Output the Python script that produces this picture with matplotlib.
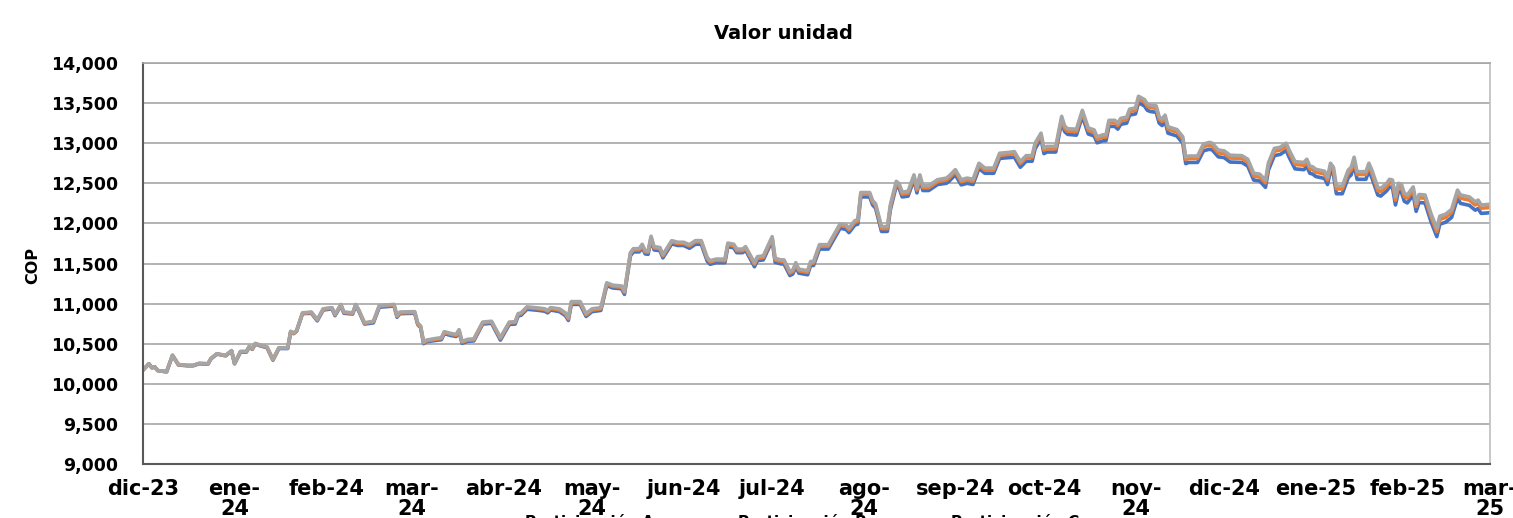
import numpy as np
import matplotlib
matplotlib.use('Agg')
import matplotlib.pyplot as plt
from matplotlib.ticker import FuncFormatter

# dias contados desde el 1 de diciembre de 2023
dias = [0, 2, 3, 4, 5, 8, 10, 12, 15, 17, 19, 22, 23, 25, 28, 30, 31, 33, 35, 36,
        37, 38, 40, 42, 44, 46, 49, 50, 51, 52, 54, 57, 59, 61, 64, 65, 67, 68, 71, 72,
        73, 75, 78, 80, 85, 86, 87, 92, 93, 94, 95, 96, 99, 101, 102, 104, 106, 107, 108, 110,
        112, 115, 118, 121, 124, 126, 127, 128, 130, 134, 136, 137, 138, 141, 143, 144, 145, 148, 150, 152,
        155, 157, 159, 162, 163, 165, 166, 168, 169, 170, 171, 172, 173, 175, 176, 179, 181, 183, 185, 187,
        189, 191, 192, 194, 197, 198, 200, 201, 203, 204, 207, 208, 210, 213, 214, 216, 217, 219, 220, 221,
        222, 225, 226, 227, 229, 232, 236, 238, 239, 241, 242, 243, 246, 247, 248, 250, 252, 253, 255, 256,
        257, 259, 261, 262, 263, 264, 266, 269, 272, 273, 275, 277, 279, 281, 283, 285, 288, 290, 293, 295,
        297, 299, 301, 302, 304, 305, 306, 309, 311, 312, 313, 316, 318, 320, 322, 323, 325, 326, 327, 329,
        330, 331, 333, 334, 336, 337, 339, 340, 341, 343, 344, 345, 346, 347, 350, 352, 353, 354, 357, 359,
        361, 362, 364, 366, 368, 372, 374, 376, 378, 380, 381, 383, 385, 387, 388, 390, 393, 394, 395, 396,
        397, 400, 401, 402, 403, 404, 406, 408, 409, 410, 411, 414, 415, 416, 418, 419, 421, 422, 423, 424,
        425, 426, 427, 428, 430, 431, 432, 434, 436, 438, 439, 441, 443, 445, 446, 449, 451, 452, 453, 455,
        456]

part_c = [10170, 10250, 10200, 10210, 10165, 10150, 10355, 10240, 10230, 10230, 10255, 10250, 10315, 10375, 10355, 10415, 10255, 10405, 10405, 10470,
          10440, 10505, 10480, 10460, 10305, 10450, 10450, 10655, 10635, 10665, 10885, 10895, 10800, 10935, 10950, 10865, 10990, 10895, 10885, 10990,
          10925, 10760, 10780, 10975, 10990, 10850, 10895, 10900, 10760, 10720, 10520, 10545, 10565, 10575, 10650, 10630, 10615, 10675, 10530, 10555,
          10560, 10770, 10780, 10575, 10770, 10775, 10875, 10885, 10960, 10945, 10935, 10915, 10950, 10935, 10885, 10825, 11025, 11025, 10875, 10935,
          10950, 11260, 11230, 11220, 11155, 11635, 11685, 11685, 11740, 11660, 11655, 11840, 11710, 11700, 11610, 11785, 11765, 11765, 11735, 11785,
          11785, 11575, 11535, 11555, 11555, 11755, 11740, 11680, 11680, 11710, 11510, 11585, 11595, 11835, 11565, 11545, 11545, 11400, 11420, 11510,
          11430, 11410, 11525, 11525, 11735, 11735, 11995, 11980, 11940, 12035, 12045, 12385, 12385, 12285, 12245, 11960, 11960, 12230, 12525, 12495,
          12390, 12400, 12605, 12440, 12605, 12470, 12470, 12545, 12565, 12595, 12670, 12545, 12565, 12550, 12750, 12690, 12690, 12875, 12885, 12895,
          12770, 12845, 12845, 13000, 13125, 12940, 12960, 12960, 13335, 13215, 13180, 13175, 13410, 13190, 13165, 13080, 13105, 13105, 13285, 13285,
          13250, 13310, 13325, 13425, 13440, 13585, 13545, 13490, 13475, 13465, 13330, 13300, 13350, 13205, 13170, 13080, 12825, 12840, 12840, 12990,
          13010, 13000, 12915, 12905, 12850, 12845, 12800, 12625, 12615, 12540, 12755, 12935, 12950, 13000, 12915, 12770, 12760, 12800, 12715, 12705,
          12675, 12650, 12575, 12750, 12700, 12465, 12465, 12665, 12700, 12825, 12645, 12645, 12750, 12665, 12450, 12435, 12500, 12550, 12540, 12330,
          12500, 12490, 12375, 12355, 12455, 12250, 12360, 12355, 12125, 11935, 12090, 12115, 12175, 12415, 12355, 12330, 12270, 12290, 12230, 12235,
          12240]

part_b = [10170, 10250, 10200, 10210, 10165, 10150, 10355, 10240, 10230, 10230, 10255, 10250, 10315, 10375, 10350, 10410, 10250, 10400, 10400, 10465,
          10435, 10500, 10475, 10455, 10300, 10445, 10445, 10650, 10630, 10660, 10880, 10890, 10795, 10930, 10945, 10860, 10985, 10890, 10880, 10985,
          10920, 10755, 10775, 10970, 10980, 10840, 10885, 10890, 10750, 10710, 10510, 10535, 10555, 10565, 10640, 10620, 10605, 10665, 10520, 10545,
          10550, 10760, 10770, 10565, 10760, 10765, 10865, 10875, 10950, 10935, 10925, 10905, 10940, 10920, 10870, 10810, 11010, 11010, 10860, 10920,
          10935, 11245, 11215, 11205, 11140, 11620, 11670, 11670, 11725, 11645, 11640, 11825, 11695, 11685, 11595, 11770, 11750, 11750, 11720, 11770,
          11770, 11560, 11520, 11540, 11535, 11735, 11720, 11660, 11660, 11690, 11490, 11565, 11575, 11815, 11545, 11525, 11525, 11380, 11400, 11490,
          11410, 11390, 11505, 11505, 11715, 11715, 11975, 11960, 11920, 12015, 12025, 12365, 12365, 12265, 12225, 11935, 11935, 12205, 12500, 12470,
          12365, 12375, 12580, 12415, 12580, 12445, 12445, 12520, 12540, 12570, 12645, 12520, 12540, 12525, 12725, 12665, 12665, 12850, 12860, 12870,
          12745, 12820, 12820, 12975, 13100, 12915, 12930, 12930, 13305, 13185, 13150, 13145, 13380, 13160, 13135, 13050, 13075, 13075, 13255, 13255,
          13220, 13280, 13295, 13395, 13410, 13555, 13515, 13460, 13445, 13435, 13300, 13270, 13320, 13175, 13140, 13050, 12795, 12810, 12810, 12960,
          12975, 12965, 12880, 12870, 12815, 12810, 12765, 12590, 12580, 12505, 12720, 12900, 12915, 12965, 12880, 12735, 12725, 12765, 12680, 12670,
          12640, 12615, 12540, 12715, 12665, 12430, 12430, 12630, 12665, 12790, 12610, 12610, 12715, 12630, 12410, 12395, 12460, 12510, 12500, 12290,
          12460, 12450, 12335, 12315, 12415, 12210, 12320, 12315, 12085, 11895, 12050, 12075, 12135, 12375, 12315, 12290, 12230, 12250, 12190, 12195,
          12200]

part_a = [10170, 10250, 10200, 10210, 10165, 10150, 10355, 10235, 10225, 10225, 10250, 10245, 10310, 10370, 10350, 10410, 10250, 10395, 10395, 10460,
          10430, 10495, 10470, 10450, 10295, 10440, 10440, 10645, 10625, 10655, 10875, 10880, 10785, 10920, 10935, 10850, 10975, 10880, 10870, 10975,
          10910, 10745, 10760, 10955, 10970, 10830, 10875, 10880, 10740, 10700, 10500, 10525, 10540, 10550, 10625, 10605, 10590, 10650, 10505, 10530,
          10535, 10745, 10755, 10545, 10740, 10745, 10845, 10855, 10930, 10915, 10905, 10885, 10920, 10900, 10850, 10790, 10990, 10990, 10840, 10900,
          10915, 11225, 11195, 11185, 11115, 11595, 11645, 11645, 11700, 11620, 11615, 11800, 11670, 11660, 11570, 11745, 11725, 11725, 11690, 11740,
          11740, 11530, 11490, 11510, 11510, 11710, 11695, 11635, 11635, 11665, 11460, 11535, 11545, 11785, 11515, 11495, 11495, 11350, 11370, 11460,
          11380, 11360, 11475, 11475, 11680, 11680, 11940, 11925, 11885, 11980, 11990, 12330, 12330, 12230, 12190, 11900, 11900, 12170, 12465, 12435,
          12330, 12340, 12545, 12380, 12545, 12410, 12410, 12485, 12500, 12530, 12605, 12480, 12500, 12485, 12685, 12625, 12625, 12810, 12820, 12825,
          12700, 12775, 12775, 12930, 13055, 12870, 12890, 12890, 13265, 13145, 13110, 13100, 13335, 13115, 13090, 13005, 13030, 13030, 13210, 13210,
          13175, 13235, 13250, 13350, 13365, 13505, 13465, 13410, 13395, 13385, 13250, 13220, 13270, 13125, 13090, 13000, 12745, 12760, 12760, 12905,
          12925, 12915, 12830, 12820, 12765, 12760, 12715, 12540, 12530, 12450, 12665, 12845, 12860, 12910, 12825, 12680, 12670, 12710, 12625, 12615,
          12585, 12560, 12485, 12655, 12605, 12370, 12370, 12570, 12605, 12730, 12550, 12550, 12655, 12570, 12355, 12340, 12405, 12455, 12445, 12230,
          12400, 12390, 12275, 12255, 12355, 12150, 12260, 12255, 12025, 11835, 11990, 12015, 12075, 12315, 12250, 12225, 12165, 12185, 12125, 12130,
          12135]

series = ['Participación A', 'Participación B', 'Participación C']
colores = ['#4472C4', '#ED7D31', '#A5A5A5']

meses = ['2023-12-01', '2024-01-01', '2024-02-01', '2024-03-01', '2024-04-01', '2024-05-01',
         '2024-06-01', '2024-07-01', '2024-08-01', '2024-09-01', '2024-10-01', '2024-11-01',
         '2024-12-01', '2025-01-01', '2025-02-01', '2025-03-01']
etiquetas_mes = ['dic-23', 'ene-\n24', 'feb-24', 'mar-\n24', 'abr-24', 'may-\n24', 'jun-24', 'jul-24',
                 'ago-\n24', 'sep-24', 'oct-24', 'nov-\n24', 'dic-24', 'ene-25', 'feb-25', 'mar-\n25']

fuente = 'DejaVu Sans'

fechas = np.datetime64('2023-12-01') + np.array(dias)
ticks_x = np.array(meses, dtype='datetime64[D]')

fig = plt.figure(figsize=(15.13, 5.18), dpi=100)
ax = fig.add_axes([0.0945, 0.1042, 0.8903, 0.7742])

for valores, nombre, color in zip([part_a, part_b, part_c], series, colores):
    ax.plot(fechas, valores, color=color, linewidth=2.6, label=nombre, solid_joinstyle='round')

# ejes y cuadricula
ax.set_ylim(9000, 14000)
ax.set_yticks(np.arange(9000, 14001, 500))
ax.yaxis.set_major_formatter(FuncFormatter(lambda v, p: '{:,.0f}'.format(v)))
ax.set_xlim(ticks_x[0], ticks_x[-1])
ax.set_xticks(ticks_x)
ax.set_xticklabels(etiquetas_mes, fontfamily=fuente, fontweight='bold', fontsize=15,
                   linespacing=1.0, va='top')
for t in ax.get_yticklabels():
    t.set_fontfamily(fuente)
    t.set_fontweight('bold')
    t.set_fontsize(12.5)
ax.tick_params(axis='x', length=0, pad=11)
ax.tick_params(axis='y', length=0, pad=18)

ax.grid(axis='y', color='#a6a6a6', linewidth=1.2)
ax.set_axisbelow(True)
for lado in ['left', 'bottom']:
    ax.spines[lado].set_color('#595959')
    ax.spines[lado].set_linewidth(1.5)
ax.spines['top'].set_color('#a6a6a6')
ax.spines['top'].set_linewidth(1.2)
ax.spines['right'].set_color('#bfbfbf')
ax.spines['right'].set_linewidth(1.2)

fig.text(0.0218, 0.488, 'COP', rotation=90, ha='center', va='center',
         fontsize=11.5, fontweight='bold', fontfamily=fuente)
fig.text(0.518, 0.936, 'Valor unidad', ha='center', va='center',
         fontsize=14, fontweight='bold', fontfamily=fuente)

# leyenda al pie, queda recortada por el borde inferior
fig.legend(loc='upper center', bbox_to_anchor=(0.516, 0.023), ncol=3, frameon=False,
           prop={'family': fuente, 'weight': 'bold', 'size': 11}, borderpad=0,
           handlelength=2.0, handletextpad=0.8, columnspacing=2.7)

plt.savefig('out.png', dpi=100)
